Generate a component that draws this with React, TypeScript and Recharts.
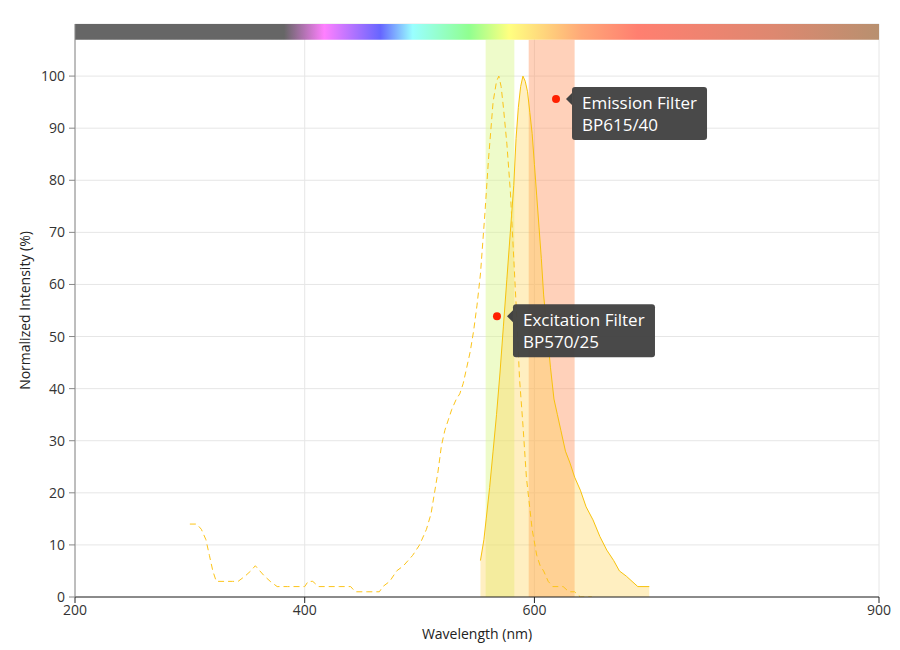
import {
  ComposedChart,
  Area,
  Line,
  XAxis,
  YAxis,
  CartesianGrid,
  ReferenceArea,
  ReferenceDot,
} from "recharts";

// excitation spectrum (dashed)
const excitationNm = [
  300, 306, 310, 314, 317, 320, 323, 330, 337, 342, 348, 353, 357, 361, 365, 370, 376, 385, 395, 400,
  403, 407, 412, 420, 430, 440, 444, 455, 465, 468, 474, 480, 486, 490, 494, 500, 506, 510, 513, 516,
  519, 522, 525, 528, 532, 535, 538, 541, 544, 547, 550, 553, 557, 560, 564, 567, 569, 571, 573, 576,
  579, 582, 585, 587, 590, 593, 596, 598, 602, 605, 608, 612, 616, 625, 630, 635, 640, 650,
];
const excitationPct = [
  14, 14, 13, 11, 8, 5, 3, 3, 3, 3, 4, 5, 6, 5, 4, 3, 2, 2, 2, 2,
  3, 3, 2, 2, 2, 2, 1, 1, 1, 2, 3, 5, 6, 7, 8, 10, 13, 16, 20, 24,
  29, 32, 34, 36, 38, 39, 41, 44, 47, 51, 56, 62, 74, 84, 95, 99, 100, 98, 94, 87,
  78, 65, 52, 42, 33, 23, 17, 13, 8, 6, 5, 3, 2, 2, 1, 1, 0, 0,
];

// emission spectrum (solid, filled)
const emissionNm = [
  553, 556, 558, 561, 564, 567, 570, 573, 576, 579, 582, 584, 586, 588, 590, 592, 594, 596, 598, 600,
  602, 604, 606, 608, 611, 614, 617, 620, 623, 627, 631, 635, 640, 645, 651, 657, 663, 669, 674, 680,
  685, 690, 700,
];
const emissionPct = [
  7, 11, 15, 21, 28, 35, 43, 52, 61, 70, 79, 88, 94, 98, 100, 99, 97, 93, 89, 83,
  77, 71, 65, 58, 51, 44, 38, 35, 32, 28, 25.7, 23, 20.5, 17.3, 14.8, 11.6, 9, 7, 5, 4,
  3, 2, 2,
];

// filter bands
const filterNames = ["Excitation Filter", "Emission Filter"];
const filterCodes = ["BP570/25", "BP615/40"];
const filterCenters = [570, 615];
const filterWidths = [25, 40];
const filterColors = ["#d9f78a", "#ff9966"];
const markerNm = [567.4, 618.8];
const markerPct = [53.9, 95.6];
const calloutWidths = [142, 135];

const xTicks = [200, 400, 600, 900];
const yTicks = [0, 10, 20, 30, 40, 50, 60, 70, 80, 90, 100];

const excitation = excitationNm.map((nm, i) => ({ nm, value: excitationPct[i] }));
const emission = emissionNm.map((nm, i) => ({ nm, value: emissionPct[i] }));

const spectrumStops: [number, string][] = [
  [0, "#666666"],
  [0.26, "#666666"],
  [0.31, "#ff80ff"],
  [0.38, "#6666ff"],
  [0.42, "#99ffff"],
  [0.49, "#90ff90"],
  [0.54, "#ffff80"],
  [0.63, "#ffa878"],
  [0.7, "#ff7f70"],
  [0.87, "#dd8870"],
  [1, "#b8906f"],
];

function Callout(props: any, idx: number) {
  const { cx, cy } = props;
  const w = calloutWidths[idx];
  const bx = cx + 16;
  const by = cy - 12;
  return (
    <g>
      <circle cx={cx} cy={cy} r={4} fill="#ff2000" />
      <rect x={bx} y={by} width={w} height={53} rx={3} fill="#424242" fillOpacity={0.96} />
      <path d={`M${cx + 10},${cy} L${bx},${cy - 6} L${bx},${cy + 6} Z`} fill="#424242" />
      <text x={bx + 10} y={cy + 10} fill="#ffffff" fontSize={17} fontFamily="Open Sans">
        {filterNames[idx]}
      </text>
      <text x={bx + 10} y={cy + 32} fill="#ffffff" fontSize={17} fontFamily="Open Sans">
        {filterCodes[idx]}
      </text>
    </g>
  );
}

export default function App() {
  return (
    <div style={{ position: "absolute", left: 0, top: 0, width: 900, height: 650, background: "#fff" }}>
      <ComposedChart
        width={900}
        height={650}
        margin={{ top: 24, right: 21, bottom: 3, left: 0 }}
        style={{ fontFamily: "Open Sans" }}
      >
        <defs>
          <linearGradient id="spectrum" x1="0" y1="0" x2="1" y2="0">
            {spectrumStops.map(([o, c]) => (
              <stop key={o} offset={o} stopColor={c} />
            ))}
          </linearGradient>
        </defs>
        <CartesianGrid stroke="#e6e6e6" />
        <XAxis
          type="number"
          dataKey="nm"
          domain={[200, 900]}
          ticks={xTicks}
          allowDataOverflow
          height={50}
          stroke="#222"
          tickSize={6}
          tick={{ fill: "#333", fontSize: 14 }}
          label={{ value: "Wavelength (nm)", position: "insideBottom", offset: 8, fill: "#222", fontSize: 14 }}
        />
        <YAxis
          type="number"
          domain={[0, 110]}
          ticks={yTicks}
          allowDataOverflow
          width={75}
          stroke="#888"
          tickSize={6}
          tickMargin={4}
          tick={{ fill: "#333", fontSize: 14 }}
          label={{ value: "Normalized Intensity (%)", angle: -90, position: "center", dx: -12, fill: "#222", fontSize: 14 }}
        />
        {filterCenters.map((c, i) => (
          <ReferenceArea
            key={filterNames[i]}
            x1={c - filterWidths[i] / 2}
            x2={c + filterWidths[i] / 2}
            y1={0}
            y2={107}
            fill={filterColors[i]}
            fillOpacity={0.45}
            stroke="none"
          />
        ))}
        <ReferenceArea x1={200} x2={900} y1={107} y2={110} fill="url(#spectrum)" fillOpacity={1} stroke="none" />
        <Area
          data={emission}
          dataKey="value"
          type="linear"
          stroke="#f7c20c"
          strokeWidth={1}
          fill="#ffd24d"
          fillOpacity={0.35}
          isAnimationActive={false}
          dot={false}
          activeDot={false}
        />
        <Line
          data={excitation}
          dataKey="value"
          type="linear"
          stroke="#fcc419"
          strokeWidth={1}
          strokeDasharray="6 4"
          dot={false}
          activeDot={false}
          isAnimationActive={false}
        />
        {markerNm.map((nm, i) => (
          <ReferenceDot
            key={filterCodes[i]}
            x={nm}
            y={markerPct[i]}
            r={4}
            shape={(p: any) => Callout(p, i)}
          />
        ))}
      </ComposedChart>
    </div>
  );
}
